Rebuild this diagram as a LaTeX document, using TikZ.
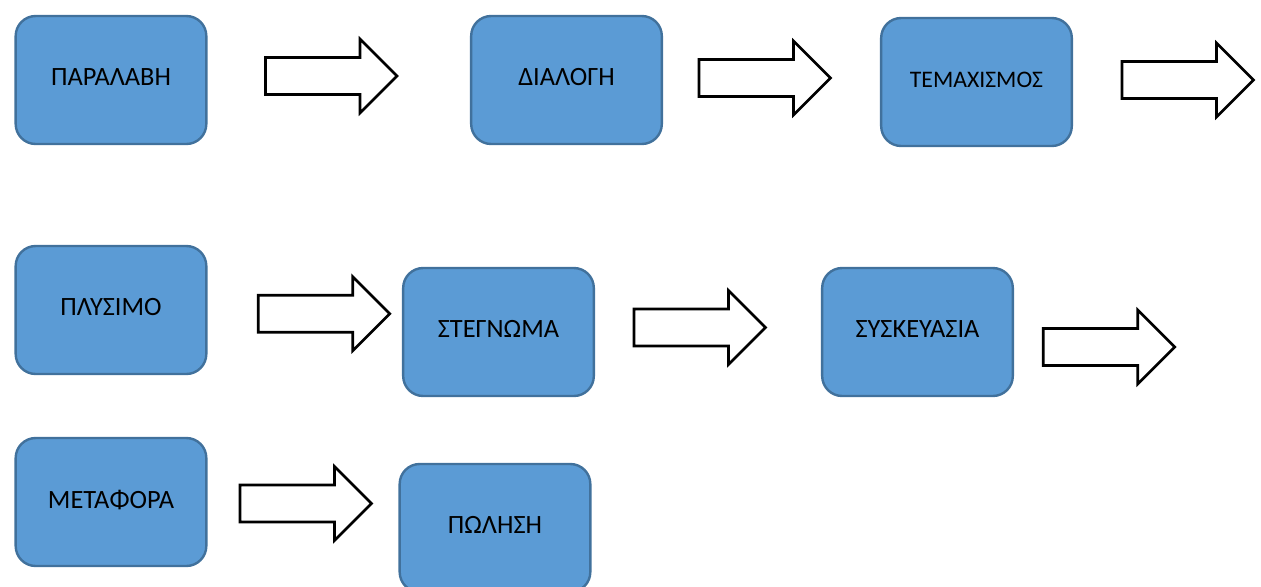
\documentclass[tikz,border=0pt]{standalone}
\usepackage{fontspec}
\setmainfont{Carlito}
\definecolor{boxfill}{HTML}{5B9BD5}
\definecolor{boxline}{HTML}{41719C}
\tikzset{
  stagebox/.style={draw=boxline, fill=boxfill, line width=1.8pt, rounded corners=15pt,
    minimum width=143pt, minimum height=96pt, text depth=4pt, font=\fontsize{19.8}{22}\selectfont},
  arrowline/.style={draw=black, fill=white, line width=2pt, line join=miter},
  blockarrow/.pic={\filldraw[arrowline] (0,-18.5) -- (94.5,-18.5) -- (94.5,-37) -- (131.5,0)
    -- (94.5,37) -- (94.5,18.5) -- (0,18.5) -- cycle;}
}
\begin{document}
\begin{tikzpicture}[x=0.75pt,y=-0.75pt]
			\useasboundingbox (0,0) rectangle (1261,586);
			\clip (0,0) rectangle (1261,586);
			\node[stagebox] (paralavi) at (111,80) {ΠΑΡΑΛΑΒΗ};
			\node[stagebox] (dialogi) at (566.5,80) {ΔΙΑΛΟΓΗ};
			\node[stagebox, font=\fontsize{17.8}{20}\selectfont] (temaxismos) at (976.5,82) {ΤΕΜΑΧΙΣΜΟΣ};
			\node[stagebox] (plysimo) at (111,310) {ΠΛΥΣΙΜΟ};
			\node[stagebox] (stegnoma) at (498.5,332) {ΣΤΕΓΝΩΜΑ};
			\node[stagebox] (syskevasia) at (917.5,332) {ΣΥΣΚΕΥΑΣΙΑ};
			\node[stagebox] (metafora) at (111,502) {ΜΕΤΑΦΟΡΑ};
			\node[stagebox] (polisi) at (495,528) {ΠΩΛΗΣΗ};
			% block arrows
			\pic at (265.5,76) {blockarrow};
			\pic at (699,78) {blockarrow};
			\pic at (1122,80) {blockarrow};
			\pic at (258.3,313.7) {blockarrow};
			\pic at (634,327.5) {blockarrow};
			\pic at (1043.3,347) {blockarrow};
			\pic at (240,503.5) {blockarrow};
		\end{tikzpicture}
\end{document}
